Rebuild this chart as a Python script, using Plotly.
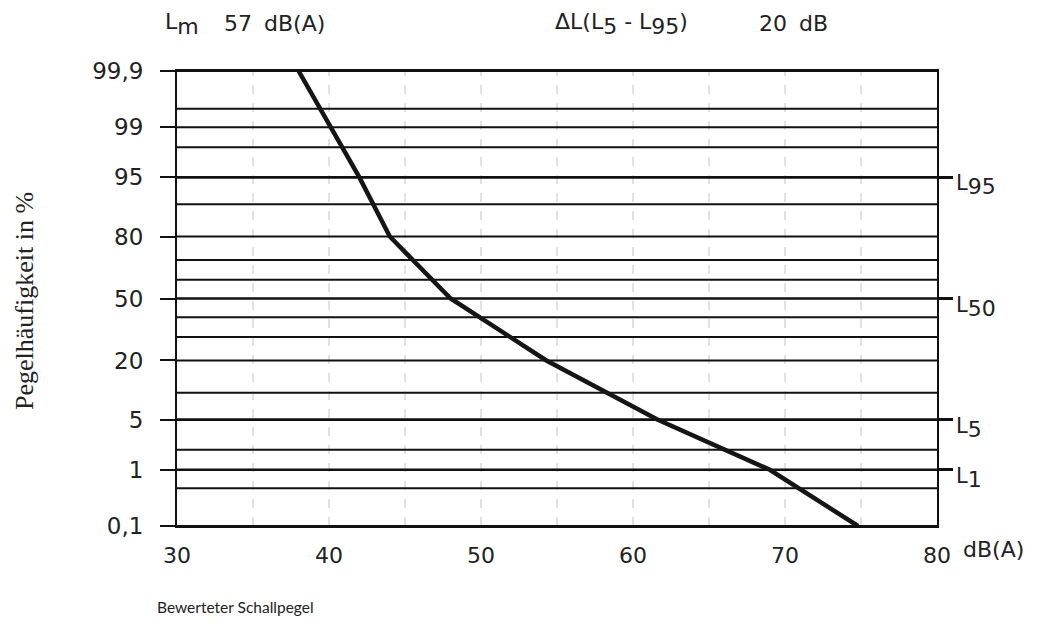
import plotly.graph_objects as go
from statistics import NormalDist

# ---- data ----
grid_pct = [0.1, 0.5, 1, 2, 5, 10, 20, 30, 40, 50, 60, 70, 80, 90, 95, 98, 99, 99.5, 99.9]
major_pct = [0.1, 1, 5, 20, 50, 80, 95, 99, 99.9]
major_labels = ["0,1", "1", "5", "20", "50", "80", "95", "99", "99,9"]
marked_pct = [95, 50, 5, 1]
marked_subs = ["95", "50", "5", "1"]
x_ticks = [30, 40, 50, 60, 70, 80]
x_ticklabels = ["30", "40", "50", "60", "70", "80"]
x_dashed = [35, 40, 45, 50, 55, 60, 65, 70, 75]
curve_level = [38, 42, 44, 48, 54.3, 61.6, 69, 74.8]
curve_pct = [99.9, 95, 80, 50, 20, 5, 1, 0.1]

nd = NormalDist()
def z(p):
    return nd.inv_cdf(p / 100.0)

SANS = "DejaVu Sans"
ink = "#111111"
txt = "#222222"

def sub(s, size=20):
    return "<sub><span style='font-size:%dpx'>%s</span></sub>" % (size, s)

fig = go.Figure()

shapes = []
for xv in x_dashed:
    shapes.append(dict(type="line", xref="x", yref="y", x0=xv, x1=xv,
                       y0=z(0.1), y1=z(99.9), layer="below",
                       line=dict(color="#c4c4c4", width=1, dash="dash")))
for p in grid_pct:
    w = 2.6 if p in marked_pct else 2
    shapes.append(dict(type="line", xref="x", yref="y", x0=30, x1=80,
                       y0=z(p), y1=z(p), layer="below",
                       line=dict(color=ink, width=w)))

fig.add_trace(go.Scatter(x=curve_level, y=[z(p) for p in curve_pct], mode="lines",
                         line=dict(color="#151515", width=4.5), showlegend=False,
                         hoverinfo="skip"))
# invisible trace to activate y2
fig.add_trace(go.Scatter(x=[30], y=[0], yaxis="y2", mode="markers",
                         marker=dict(opacity=0), showlegend=False, hoverinfo="skip"))

yr = [z(0.1), z(99.9)]
fig.update_layout(
    width=1039, height=638,
    margin=dict(l=169, r=110, t=63, b=120),
    paper_bgcolor="white", plot_bgcolor="white",
    shapes=shapes,
    xaxis=dict(range=[30, 80], tickvals=x_ticks, ticktext=x_ticklabels,
               showgrid=False, zeroline=False, showline=True, mirror=True,
               linecolor=ink, linewidth=2, ticks="", ticklabelstandoff=9,
               tickfont=dict(family=SANS, size=22, color=txt)),
    yaxis=dict(range=yr, tickvals=[z(p) for p in major_pct], ticktext=major_labels,
               showgrid=False, zeroline=False, showline=True, mirror=True,
               linecolor=ink, linewidth=2, ticks="outside", ticklen=15,
               tickwidth=2, tickcolor=ink, ticklabelstandoff=12,
               tickfont=dict(family=SANS, size=23, color=txt)),
    yaxis2=dict(range=yr, overlaying="y", side="right",
                tickvals=[z(p) for p in marked_pct], showticklabels=False,
                ticks="outside", ticklen=15, tickwidth=2.6, tickcolor=ink,
                showgrid=False, zeroline=False, showline=False),
)

ann = []
for p, s in zip(marked_pct, marked_subs):
    ann.append(dict(x=1.022, xref="paper", y=z(p), yref="y", text="L" + sub(s, 22),
                    xanchor="left", yanchor="top", yshift=8, showarrow=False,
                    font=dict(family=SANS, size=21, color=txt)))
# x unit
ann.append(dict(x=80, xref="x", y=0, yref="paper", text="dB(A)", xanchor="left",
                yanchor="top", xshift=24, yshift=-9, showarrow=False,
                font=dict(family=SANS, size=22, color=txt)))
# top header
def top(xpx, text):
    return dict(x=(xpx - 177) / 760.0, xref="paper", y=(526 - 24) / 455.0, yref="paper",
                text=text, xanchor="left", yanchor="middle", showarrow=False,
                font=dict(family=SANS, size=22, color=txt))
ann.append(top(163, "L" + sub("m", 22)))
ann.append(top(222, "57"))
ann.append(top(262, "dB(A)"))
ann.append(top(553, "ΔL(L" + sub("5", 22) + " - L" + sub("95", 22) + ")"))
ann.append(top(757, "20"))
ann.append(top(797, "dB"))
# axis titles
ann.append(dict(x=(24 - 177) / 760.0, xref="paper", y=(526 - 301) / 455.0, yref="paper",
                text="Pegelhäufigkeit in %", textangle=-90, showarrow=False,
                xanchor="center", yanchor="middle",
                font=dict(family="Liberation Serif", size=26, color=txt)))
ann.append(dict(x=(155 - 177) / 760.0, xref="paper", y=(526 - 607) / 455.0, yref="paper",
                text="Bewerteter Schallpegel", showarrow=False,
                xanchor="left", yanchor="middle",
                font=dict(family="Lato", size=15.5, color=txt)))
fig.update_layout(annotations=ann)

fig.write_html("out.html")
